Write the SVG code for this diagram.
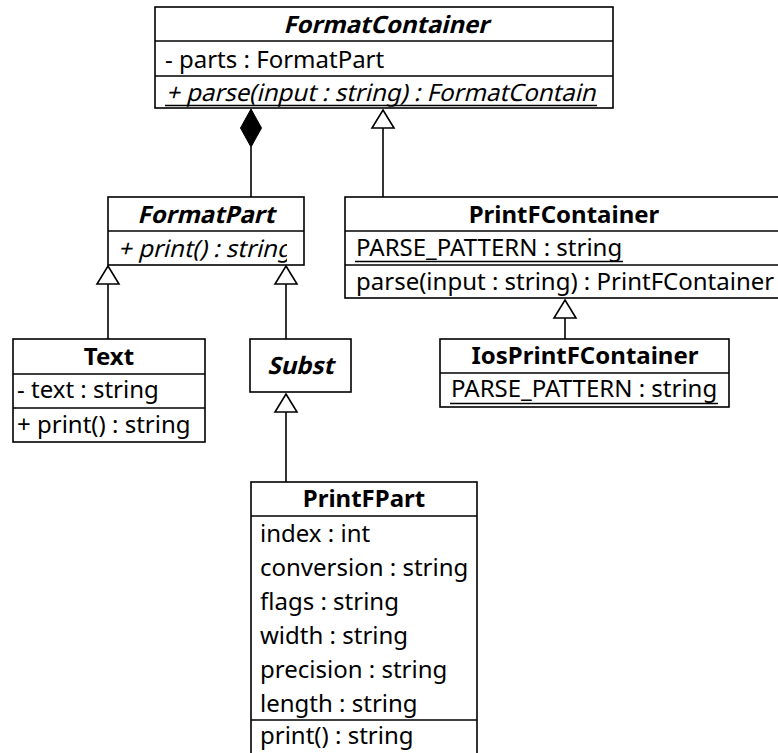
<svg xmlns="http://www.w3.org/2000/svg" width="778" height="753" viewBox="0 0 778 753">
<defs>
<style>
.box{fill:#fff;stroke:#000;stroke-width:1.6}
.div{stroke:#000;stroke-width:1.6}
.u{stroke:#000;stroke-width:1.3}
.t{font-family:"Noto Sans","Open Sans","DejaVu Sans",sans-serif;font-size:24px;fill:#000}
.title{font-weight:bold;text-anchor:middle}
.edge{stroke:#000;stroke-width:1.6;fill:none}
.gen{fill:#fff;stroke:#000;stroke-width:1.6}
.comp{fill:#000;stroke:#000;stroke-width:1}
</style>
<clipPath id="cFC"><rect x="155" y="7" width="442" height="101"/></clipPath>
<clipPath id="cFP"><rect x="108" y="197" width="179" height="68"/></clipPath>
</defs>
<rect width="778" height="753" fill="#fff"/>

<g id="FormatContainer">
<rect class="box" x="155" y="7" width="458" height="101"/>
<line class="div" x1="155" y1="41" x2="613" y2="41"/>
<line class="div" x1="155" y1="76" x2="613" y2="76"/>
<text class="t title" transform="translate(386,33) skewX(-14)">FormatContainer</text>
<text class="t" x="165" y="68">- parts : FormatPart</text>
<g clip-path="url(#cFC)">
<text class="t" transform="translate(166,101) skewX(-14)">+ parse(input : string) : FormatContainer</text>
<line class="u" x1="165" y1="105.5" x2="597" y2="105.5"/>
</g>
</g>

<g id="FormatPart">
<rect class="box" x="108" y="197" width="196" height="68"/>
<line class="div" x1="108" y1="231" x2="304" y2="231"/>
<text class="t title" transform="translate(206,223) skewX(-14)">FormatPart</text>
<g clip-path="url(#cFP)">
<text class="t" transform="translate(118,257) skewX(-14)">+ print() : string</text>
</g>
</g>

<g id="Text">
<rect class="box" x="13" y="339" width="192" height="103"/>
<line class="div" x1="13" y1="374" x2="205" y2="374"/>
<line class="div" x1="13" y1="408" x2="205" y2="408"/>
<text class="t title" x="109" y="365">Text</text>
<text class="t" x="17" y="398">- text : string</text>
<text class="t" x="17" y="433">+ print() : string</text>
</g>

<g id="Subst">
<rect class="box" x="250" y="339" width="101" height="53"/>
<text class="t title" transform="translate(300.5,374) skewX(-14)">Subst</text>
</g>

<g id="PrintFPart">
<rect class="box" x="251" y="482" width="226" height="290"/>
<line class="div" x1="251" y1="516" x2="477" y2="516"/>
<line class="div" x1="251" y1="720" x2="477" y2="720"/>
<text class="t title" x="364" y="507">PrintFPart</text>
<text class="t" x="260" y="542">index : int</text>
<text class="t" x="260" y="576">conversion : string</text>
<text class="t" x="260" y="610">flags : string</text>
<text class="t" x="260" y="644">width : string</text>
<text class="t" x="260" y="678">precision : string</text>
<text class="t" x="260" y="712">length : string</text>
<text class="t" x="260" y="744">print() : string</text>
</g>

<g id="PrintFContainer">
<rect class="box" x="345" y="197" width="440" height="101"/>
<line class="div" x1="345" y1="231" x2="785" y2="231"/>
<line class="div" x1="345" y1="265" x2="785" y2="265"/>
<text class="t title" x="564" y="223">PrintFContainer</text>
<text class="t" x="356" y="256">PARSE_PATTERN : string</text>
<line class="u" x1="355" y1="261.5" x2="623" y2="261.5"/>
<text class="t" x="356" y="290">parse(input : string) : PrintFContainer</text>
</g>

<g id="IosPrintFContainer">
<rect class="box" x="440" y="339" width="289" height="68"/>
<line class="div" x1="440" y1="373" x2="729" y2="373"/>
<text class="t title" x="585" y="364">IosPrintFContainer</text>
<text class="t" x="451" y="397">PARSE_PATTERN : string</text>
<line class="u" x1="450" y1="403.5" x2="718" y2="403.5"/>
</g>

<g id="connectors">
<line class="edge" x1="251" y1="147" x2="251" y2="197"/>
<polygon class="comp" points="251,109 261.5,128 251,147 240.5,128"/>
<line class="edge" x1="383" y1="128" x2="383" y2="197"/>
<polygon class="gen" points="383,110 394,128 372,128"/>
<line class="edge" x1="108" y1="284" x2="108" y2="339"/>
<polygon class="gen" points="108,266 119,284 97,284"/>
<line class="edge" x1="286" y1="284" x2="286" y2="339"/>
<polygon class="gen" points="286,266 297,284 275,284"/>
<line class="edge" x1="286" y1="412" x2="286" y2="482"/>
<polygon class="gen" points="286,394 297,412 275,412"/>
<line class="edge" x1="565" y1="318" x2="565" y2="339"/>
<polygon class="gen" points="565,300 576,318 554,318"/>
</g>
</svg>
